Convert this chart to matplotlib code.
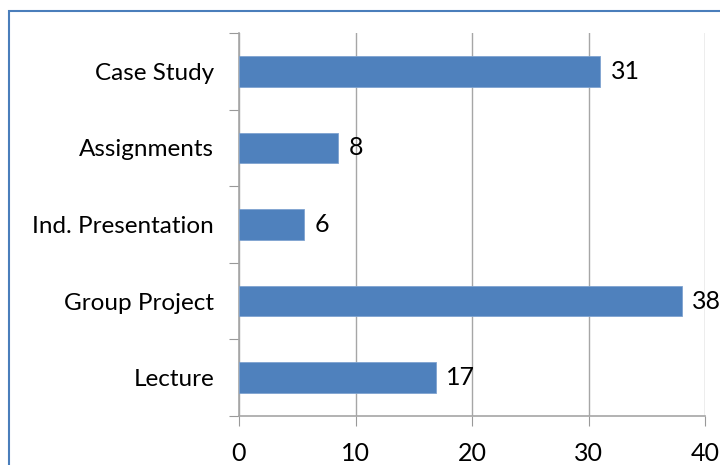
import matplotlib.pyplot as plt
from matplotlib.patches import Rectangle

# categories listed bottom to top
categories = ['Lecture', 'Group Project', 'Ind. Presentation', 'Assignments', 'Case Study']
values = [16.9, 38.0, 5.6, 8.5, 31.0]
value_labels = ['17', '38', '6', '8', '31']
x_ticks = [0, 10, 20, 30, 40]

plt.rcParams['font.family'] = ['Lato', 'DejaVu Sans']

fig = plt.figure(figsize=(7.2, 4.65), dpi=100)
ax = fig.add_axes([239 / 720, 1 - 416 / 465, (705 - 239) / 720, (416 - 33) / 465])

# chart border (right/bottom edges cut off in the original)
fig.patches.append(Rectangle((9 / 720, -0.1), 1.0, 1 - 11 / 465 + 0.1,
                             transform=fig.transFigure, fill=False,
                             edgecolor='#4a7ebb', linewidth=1.5))

pos = list(range(len(categories)))
ax.barh(pos, values, height=0.4, color='#4f81bd', edgecolor='#7fa3d0', linewidth=0.6, zorder=3)

for p, v, lab in zip(pos, values, value_labels):
    ax.text(v + 0.9, p, lab, va='center', ha='left', fontsize=18, color='black')

ax.set_xlim(0, 40)
ax.set_ylim(-0.5, len(categories) - 0.5)
ax.set_xticks(x_ticks)
ax.set_xticklabels([str(t) for t in x_ticks], fontsize=18)

ax.set_yticks([p - 0.5 for p in pos] + [len(categories) - 0.5])
ax.set_yticklabels([])
ax.set_yticks(pos, minor=True)
ax.set_yticklabels(categories, minor=True, fontsize=17.5)
ax.tick_params(axis='y', which='minor', length=0, pad=18)
ax.tick_params(axis='y', which='major', length=7, color='#999999', direction='out')
ax.tick_params(axis='x', length=7, color='#999999', direction='out', pad=12)

ax.grid(axis='x', color='#a6a6a6', linewidth=1, zorder=0)
for s in ['top', 'right']:
    ax.spines[s].set_visible(False)
for s in ['left', 'bottom']:
    ax.spines[s].set_color('#a6a6a6')
    ax.spines[s].set_linewidth(1.2)

fig.savefig('out.png', dpi=100)
